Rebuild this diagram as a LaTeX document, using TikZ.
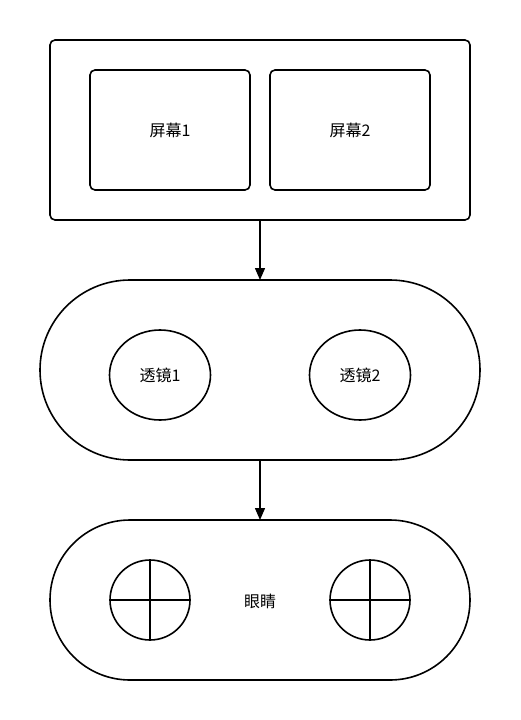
\documentclass[tikz,border=0pt]{standalone}
\usepackage{fontspec}
\setmainfont{Noto Sans CJK SC}
\usetikzlibrary{arrows.meta,shapes.geometric}
\begin{document}
\begin{tikzpicture}[x=1pt,y=-1pt,
  line width=1.6pt,
  every node/.style={outer sep=0pt, inner sep=0pt, font=\fontsize{16}{18}\selectfont},
  frame/.style={draw, rectangle, rounded corners=5pt},
  screen/.style={draw, rectangle, rounded corners=5pt, minimum width=160pt, minimum height=120pt},
  pill/.style={draw, rectangle, rounded corners=#1pt},
  lens/.style={draw, ellipse, minimum width=101pt, minimum height=90pt},
  eye/.style={draw, circle, minimum size=80pt},
  link/.style={-{Triangle[length=12pt,width=10pt]}, line width=1.4pt}
]
\useasboundingbox (0,0) rectangle (520,720);

% display unit with two screens
\node[frame, minimum width=420pt, minimum height=180pt] (display) at (260,130) {};
\node[screen] (s1) at (170,130) {屏幕1};
\node[screen] (s2) at (350,130) {屏幕2};

% lens unit
\node[pill=90, minimum width=440pt, minimum height=180pt] (lenses) at (260,370) {};
\node[lens] (l1) at (160,375) {透镜1};
\node[lens] (l2) at (360,375) {透镜2};

% eyes
\node[pill=80, minimum width=420pt, minimum height=160pt] (eyes) at (260,600) {};
\node (eyelabel) at (260,601) {眼睛};
\node[eye] (e1) at (150,600) {};
\node[eye] (e2) at (370,600) {};
\draw (e1.north) -- (e1.south) (e1.west) -- (e1.east);
\draw (e2.north) -- (e2.south) (e2.west) -- (e2.east);

% connections
\draw[link] (display.south) -- (lenses.north);
\draw[link] (lenses.south) -- (eyes.north);
\end{tikzpicture}
\end{document}
